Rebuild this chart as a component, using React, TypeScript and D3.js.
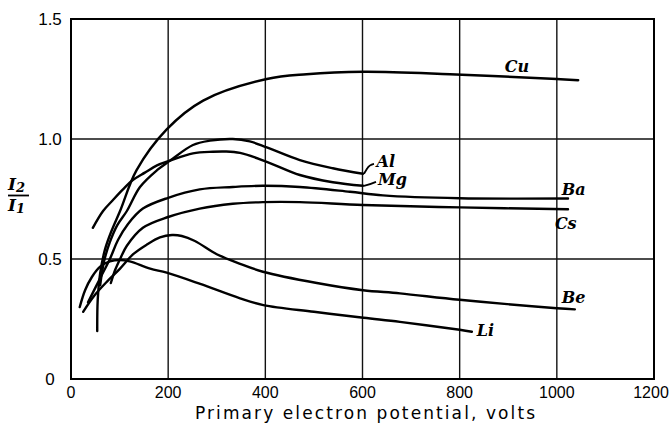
import React, { useEffect, useRef } from 'react';
import { select, scaleLinear, line, curveCatmullRom } from 'd3';

const xTicks = [0, 200, 400, 600, 800, 1000, 1200];
const xTickLabels = ['0', '200', '400', '600', '800', '1000', '1200'];
const yTicks = [0, 0.5, 1.0, 1.5];
const yTickLabels = ['0', '0.5', '1.0', '1.5'];

// primary potential (volts) and I2/I1
const cuVolts = [54, 55, 60, 70, 84, 101, 135, 197, 272, 403, 485, 602, 780, 1000, 1044];
const cuRatio = [0.2, 0.33, 0.44, 0.54, 0.62, 0.7, 0.87, 1.04, 1.16, 1.25, 1.27, 1.28, 1.27, 1.25, 1.245];

const alVolts = [60, 68, 80, 95, 115, 142, 177, 204, 251, 286, 333, 368, 403, 471, 539, 601];
const alRatio = [0.39, 0.49, 0.57, 0.64, 0.7, 0.8, 0.87, 0.91, 0.975, 0.993, 1.0, 0.99, 0.965, 0.912, 0.878, 0.855];

const mgVolts = [45, 66, 86, 107, 128, 152, 177, 204, 251, 292, 317, 348, 403, 471, 539, 601];
const mgRatio = [0.63, 0.7, 0.745, 0.79, 0.83, 0.86, 0.89, 0.91, 0.94, 0.947, 0.948, 0.942, 0.905, 0.85, 0.82, 0.805];

const baVolts = [35, 60, 80, 97, 117, 148, 200, 265, 333, 395, 471, 574, 642, 800, 1023];
const baRatio = [0.32, 0.42, 0.5, 0.58, 0.645, 0.71, 0.755, 0.79, 0.8, 0.805, 0.8, 0.78, 0.765, 0.753, 0.752];

const csVolts = [82, 91, 101, 115, 148, 200, 265, 333, 395, 471, 601, 800, 1023];
const csRatio = [0.4, 0.455, 0.5, 0.555, 0.63, 0.675, 0.71, 0.73, 0.737, 0.737, 0.725, 0.715, 0.707];

const beVolts = [25, 49, 76, 101, 128, 156, 183, 208, 228, 255, 300, 348, 395, 506, 601, 677, 800, 1000, 1037];
const beRatio = [0.28, 0.35, 0.41, 0.46, 0.52, 0.56, 0.59, 0.6, 0.596, 0.575, 0.52, 0.48, 0.447, 0.4, 0.37, 0.357, 0.33, 0.295, 0.29];

const liVolts = [18, 29, 43, 60, 80, 101, 121, 163, 197, 266, 348, 396, 500, 602, 677, 800, 825];
const liRatio = [0.3, 0.37, 0.425, 0.468, 0.49, 0.496, 0.49, 0.46, 0.443, 0.396, 0.336, 0.308, 0.28, 0.255, 0.238, 0.205, 0.197];

const names = ['Cu', 'Al', 'Mg', 'Ba', 'Cs', 'Be', 'Li'];
const volts = [cuVolts, alVolts, mgVolts, baVolts, csVolts, beVolts, liVolts];
const ratios = [cuRatio, alRatio, mgRatio, baRatio, csRatio, beRatio, liRatio];

// where each curve name is written (data units)
const labelVolts = [893, 629, 632, 1010, 996, 1010, 835];
const labelRatio = [1.281, 0.883, 0.81, 0.767, 0.625, 0.318, 0.179];

const App = () => {
  const svgRef = useRef(null);

  useEffect(() => {
    const svg = select(svgRef.current);
    svg.selectAll('*').remove();

    const x = scaleLinear().domain([0, 1200]).range([71, 654]);
    const y = scaleLinear().domain([0, 1.5]).range([379, 19]);

    // grid
    svg
      .selectAll('.vgrid')
      .data(xTicks)
      .join('line')
      .attr('x1', (d) => x(d))
      .attr('x2', (d) => x(d))
      .attr('y1', y(0))
      .attr('y2', y(1.5))
      .attr('stroke', '#111')
      .attr('stroke-width', 1.4);
    svg
      .selectAll('.hgrid')
      .data(yTicks)
      .join('line')
      .attr('x1', x(0))
      .attr('x2', x(1200))
      .attr('y1', (d) => y(d))
      .attr('y2', (d) => y(d))
      .attr('stroke', '#111')
      .attr('stroke-width', 1.4);
    svg
      .append('rect')
      .attr('x', x(0))
      .attr('y', y(1.5))
      .attr('width', x(1200) - x(0))
      .attr('height', y(0) - y(1.5))
      .attr('fill', 'none')
      .attr('stroke', '#000')
      .attr('stroke-width', 2);

    // tick labels
    const tickFont = '"Liberation Sans", Arial, sans-serif';
    svg
      .selectAll('.xlab')
      .data(xTicks)
      .join('text')
      .attr('x', (d) => Math.min(x(d), 651))
      .attr('y', 398)
      .attr('text-anchor', 'middle')
      .attr('font-family', tickFont)
      .attr('font-size', 16)
      .text((_, i) => xTickLabels[i]);
    svg
      .selectAll('.ylab')
      .data(yTicks)
      .join('text')
      .attr('x', 50)
      .attr('y', (d) => y(d) + 6)
      .attr('text-anchor', 'middle')
      .attr('font-family', tickFont)
      .attr('font-size', 17)
      .text((_, i) => yTickLabels[i]);

    svg
      .append('text')
      .attr('x', 195)
      .attr('y', 419)
      .attr('font-family', '"DejaVu Sans", sans-serif')
      .attr('font-size', 17)
      .attr('textLength', 340)
      .attr('lengthAdjust', 'spacing')
      .text('Primary electron potential, volts');

    // I2 / I1
    const serif = '"DejaVu Serif", serif';
    const num = svg
      .append('text')
      .attr('x', 8)
      .attr('y', 190)
      .attr('font-family', serif)
      .attr('font-size', 17)
      .attr('font-weight', 'bold')
      .attr('font-style', 'italic');
    num.append('tspan').text('I');
    num.append('tspan').attr('dy', 2).attr('font-size', 13).text('2');
    svg
      .append('line')
      .attr('x1', 8)
      .attr('x2', 29)
      .attr('y1', 195.5)
      .attr('y2', 195.5)
      .attr('stroke', '#000')
      .attr('stroke-width', 1.8);
    const den = svg
      .append('text')
      .attr('x', 8)
      .attr('y', 211)
      .attr('font-family', serif)
      .attr('font-size', 17)
      .attr('font-weight', 'bold')
      .attr('font-style', 'italic');
    den.append('tspan').text('I');
    den.append('tspan').attr('dy', 2).attr('font-size', 13).text('1');

    // curves
    const path = line().curve(curveCatmullRom.alpha(0.5));
    names.forEach((name, k) => {
      const pts = volts[k].map((v, i) => [x(v), y(ratios[k][i])] as [number, number]);
      svg
        .append('path')
        .attr('d', path(pts))
        .attr('fill', 'none')
        .attr('stroke', '#000')
        .attr('stroke-width', 2.4)
        .attr('stroke-linecap', 'round');
      svg
        .append('text')
        .attr('x', x(labelVolts[k]))
        .attr('y', y(labelRatio[k]))
        .attr('font-family', serif)
        .attr('font-size', 16)
        .attr('font-weight', 'bold')
        .attr('font-style', 'italic')
        .text(name);
    });

    // little leaders from Al and Mg ends to their names
    const alEnd = [x(alVolts[alVolts.length - 1]), y(alRatio[alRatio.length - 1])];
    svg
      .append('path')
      .attr('d', `M${alEnd[0] + 1},${alEnd[1]} L${alEnd[0] + 4},${alEnd[1] - 5} Q${alEnd[0] + 6},${alEnd[1] - 9} ${alEnd[0] + 11},${alEnd[1] - 10}`)
      .attr('fill', 'none')
      .attr('stroke', '#000')
      .attr('stroke-width', 1.8);
    const mgEnd = [x(mgVolts[mgVolts.length - 1]), y(mgRatio[mgRatio.length - 1])];
    svg
      .append('path')
      .attr('d', `M${mgEnd[0] + 1},${mgEnd[1]} Q${mgEnd[0] + 6},${mgEnd[1] - 1} ${mgEnd[0] + 13},${mgEnd[1] - 4}`)
      .attr('fill', 'none')
      .attr('stroke', '#000')
      .attr('stroke-width', 1.8);
  }, []);

  return (
    <svg
      ref={svgRef}
      width={670}
      height={426}
      style={{ position: 'absolute', left: 0, top: 0, background: '#fff' }}
    />
  );
};

export default App;
